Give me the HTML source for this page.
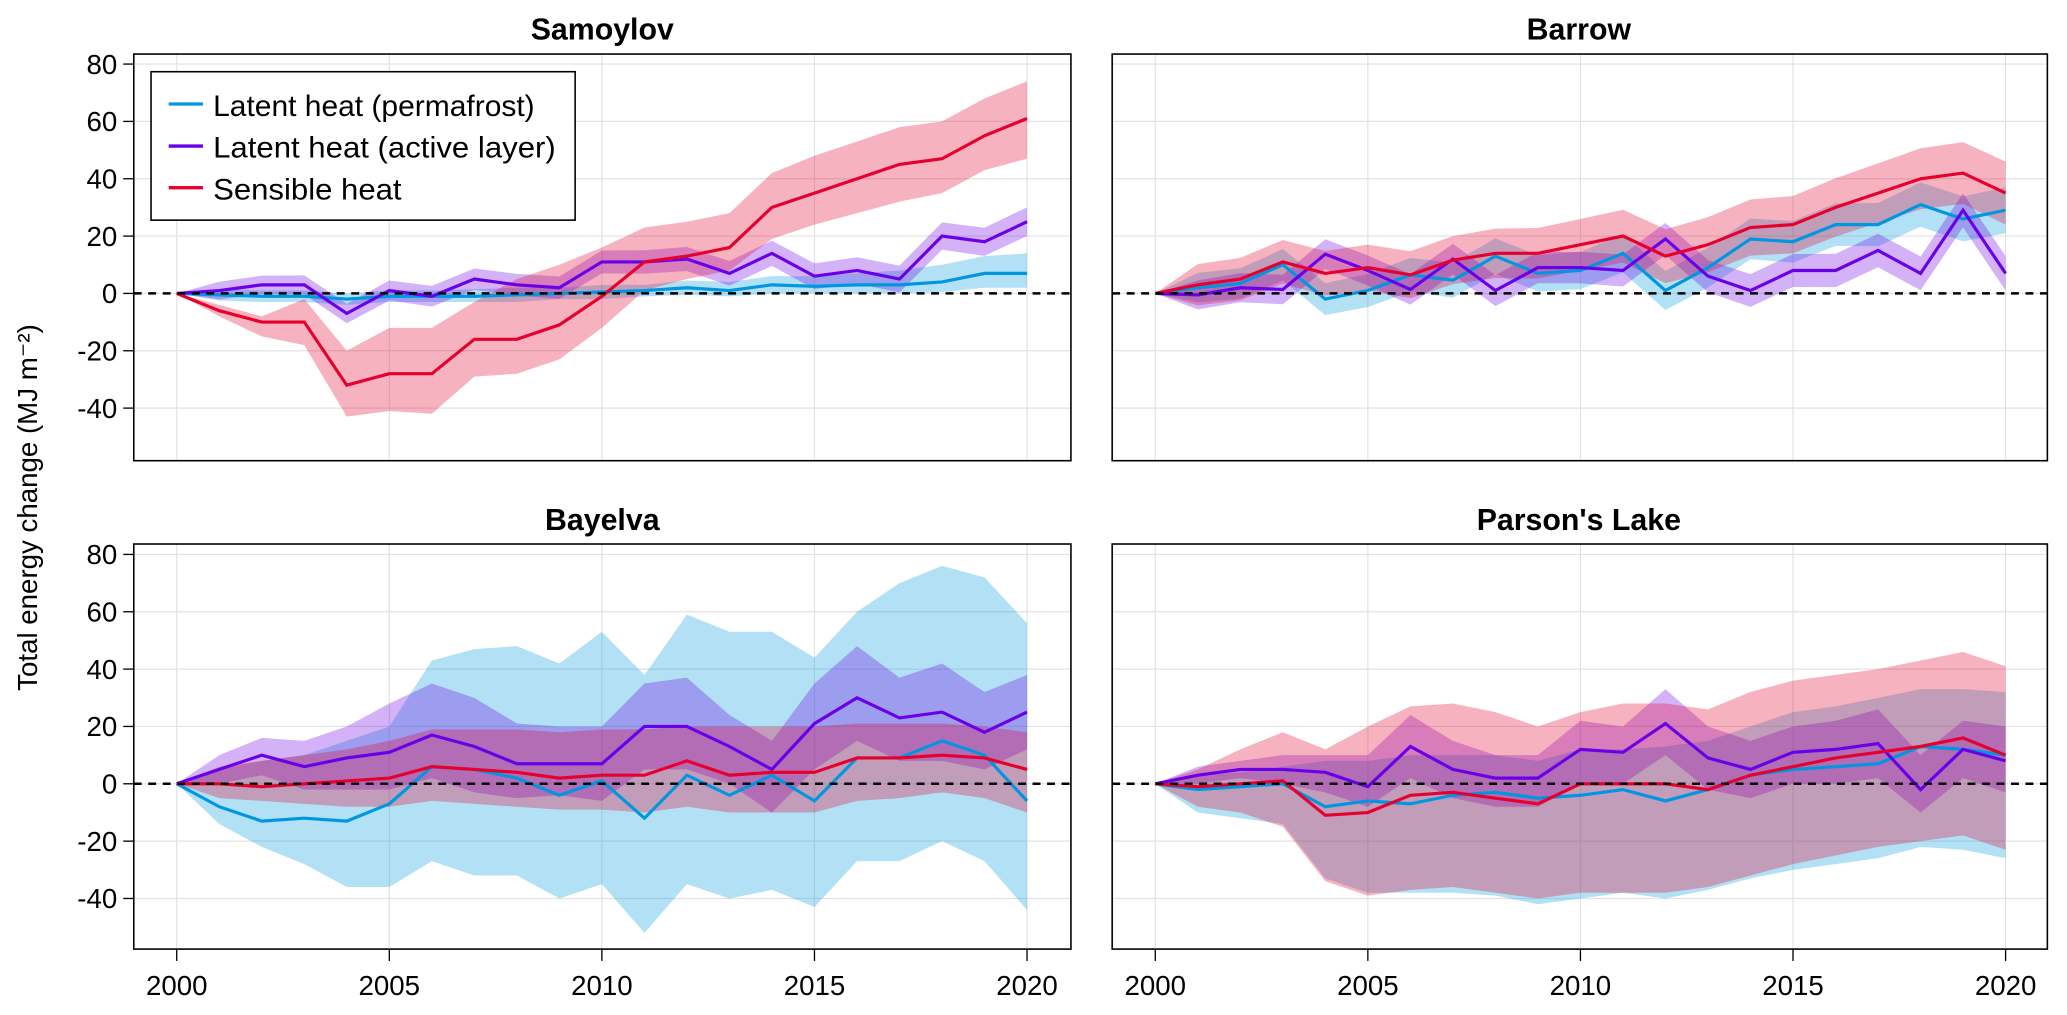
<!DOCTYPE html>
<html><head><meta charset="utf-8"><style>
html,body{margin:0;padding:0;background:#fff;}
svg{display:block;}
text{font-family:"Liberation Sans",sans-serif;}
</style></head><body>
<svg id="s" width="2067" height="1015" viewBox="0 0 1568.4 770" preserveAspectRatio="none" xmlns="http://www.w3.org/2000/svg">
<g id="grid"></g>
<g id="data"></g>
<g id="frames"></g>
<text x="457" y="30" font-size="23" font-weight="bold" text-anchor="middle">Samoylov</text>
<text x="1198" y="30" font-size="23" font-weight="bold" text-anchor="middle">Barrow</text>
<text x="457" y="402" font-size="23" font-weight="bold" text-anchor="middle">Bayelva</text>
<text x="1198" y="402" font-size="23" font-weight="bold" text-anchor="middle">Parson's Lake</text>
<text transform="translate(28,385) rotate(-90)" font-size="21" text-anchor="middle">Total energy change (MJ m⁻²)</text>
<g font-size="21" text-anchor="end">
<text x="89" y="56">80</text><text x="89" y="99.5">60</text><text x="89" y="143">40</text><text x="89" y="186.5">20</text><text x="89" y="230">0</text><text x="89" y="273.5">-20</text><text x="89" y="317">-40</text>
<text x="89" y="428">80</text><text x="89" y="471.5">60</text><text x="89" y="515">40</text><text x="89" y="558.5">20</text><text x="89" y="602">0</text><text x="89" y="645.5">-20</text><text x="89" y="689">-40</text>
</g>
<g font-size="21" text-anchor="middle">
<text x="134.1" y="755">2000</text><text x="295.4" y="755">2005</text><text x="456.7" y="755">2010</text><text x="618" y="755">2015</text><text x="779.3" y="755">2020</text>
<text x="876.6" y="755">2000</text><text x="1037.9" y="755">2005</text><text x="1199.2" y="755">2010</text><text x="1360.5" y="755">2015</text><text x="1521.8" y="755">2020</text>
</g>
<g id="legend">
<rect x="114.6" y="54.4" width="321.8" height="112.6" fill="#fff" stroke="#000" stroke-width="1.2"/>
<line x1="128" y1="78.9" x2="154" y2="78.9" stroke="#0096e0" stroke-width="2.5"/>
<line x1="128" y1="110.8" x2="154" y2="110.8" stroke="#6a00e8" stroke-width="2.5"/>
<line x1="128" y1="142.4" x2="154" y2="142.4" stroke="#e6002e" stroke-width="2.5"/>
<text x="161.7" y="88" font-size="22.5" textLength="244" lengthAdjust="spacingAndGlyphs">Latent heat (permafrost)</text>
<text x="161.7" y="119.4" font-size="22.5" textLength="260" lengthAdjust="spacingAndGlyphs">Latent heat (active layer)</text>
<text x="161.7" y="151.2" font-size="22.5" textLength="143" lengthAdjust="spacingAndGlyphs">Sensible heat</text>
</g>
</svg>
<script>
var NS="http://www.w3.org/2000/svg";
function el(p,t,a){var e=document.createElementNS(NS,t);for(var k in a)e.setAttribute(k,a[k]);p.appendChild(e);return e;}
var panels=[
 {x0:134.1,y0:222.6,L:101.5,R:812.6,T:41,B:349.5},
 {x0:876.6,y0:222.6,L:843.9,R:1553.5,T:41,B:349.5},
 {x0:134.1,y0:594.6,L:101.5,R:812.6,T:412.7,B:720},
 {x0:876.6,y0:594.6,L:843.9,R:1553.5,T:412.7,B:720}];
var dx=32.26,dy=2.175;
var C={b:"#0096e0",p:"#6a00e8",r:"#e6002e"};
var F={b:"rgba(0,154,222,0.3)",p:"rgba(110,0,230,0.3)",r:"rgba(230,0,46,0.3)"};
var D=[
 {b:[[0,-0.5,-1,-1,-2,-1,-1,-1,-0.5,0,0.5,1,2,1,3,2.5,3,3,4,7,7],[0,1.5,1,1,0,1,1,1.5,2,2,3,3,4.5,4,6,6,7,8,10,13,14],[0,-2.5,-3,-3,-4,-3,-3,-3,-3,-2,-2,-1,-0.5,-1,0,0,0,0,0.5,2,2]],
  p:[[0,1,3,3,-7,1,-1,5,3,2,11,11,12,7,14,6,8,5,20,18,25],null,null],
  r:[[0,-6,-10,-10,-32,-28,-28,-16,-16,-11,-1,11,13,16,30,35,40,45,47,55,61],[0,-4,-8,-2,-20,-12,-12,-3,5,10,16,23,25,28,42,48,53,58,60,68,74],[0,-8,-15,-18,-43,-41,-42,-29,-28,-23,-12,1,5,8,19,24,28,32,35,43,47]]},
 {b:[[0,2,3.5,10,-2,1,6.5,4.6,13,7,8,14,1,9,19,18,24,24,31,26,29],null,null],
  p:[[0,-0.5,2,1.4,13.7,8,1.4,12,1,9,9,8,19,6,1,8,8,15,7,29,7],null,null],
  r:[[0,3,5,11,7,9,6.5,11.6,14,14,17,20,13,17,23,24,30,35,40,42,35],null,null]},
 {b:[[0,-8,-13,-12,-13,-7,6,5,2,-4,1,-12,3,-4,3,-6,9,9,15,10,-6],[0,5,8,10,15,20,43,47,48,42,53,38,59,53,53,44,60,70,76,72,56],[0,-14,-22,-28,-36,-36,-27,-32,-32,-40,-35,-52,-35,-40,-37,-43,-27,-27,-20,-27,-44]],
  p:[[0,5,10,6,9,11,17,13,7,7,7,20,20,13,5,21,30,23,25,18,25],[0,10,16,15,20,28,35,30,21,20,20,35,37,24,15,35,48,37,42,32,38],[0,0,3,-2,-2,-2,2,-3,-5,-4,-6,5,5,0,-10,5,15,8,8,5,12]],
  r:[[0,0,-1,0,1,2,6,5,4,2,3,3,8,3,4,4,9,9,10,9,5],[0,6,8,10,12,15,19,19,19,18,19,19,20,20,20,20,21,21,21,20,18],[0,-5,-6,-7,-8,-8,-6,-7,-8,-9,-9,-10,-8,-10,-10,-10,-6,-5,-3,-5,-10]]},
 {b:[[0,-2,-1,0,-8,-6,-7,-4,-3,-5,-4,-2,-6,-2,3,5,6,7,13,12,10],[0,3,4,6,8,8,10,10,10,8,12,12,13,15,20,25,27,30,33,33,32],[0,-10,-12,-14,-33,-38,-38,-38,-39,-42,-40,-38,-40,-37,-33,-30,-28,-26,-22,-23,-26]],
  p:[[0,3,5,5,4,-1,13,5,2,2,12,11,21,9,5,11,12,14,-2,12,8],[0,6,8,10,10,10,24,15,10,10,22,20,33,20,15,20,22,26,10,22,20],[0,0,2,0,-3,-8,2,-5,-8,-8,0,0,10,-2,-5,0,0,2,-10,2,-3]],
  r:[[0,-1,0,1,-11,-10,-4,-3,-5,-7,0,0,0,-2,3,6,9,11,13,16,10],[0,5,12,18,12,20,27,28,25,20,25,28,28,26,32,36,38,40,43,46,41],[0,-8,-10,-15,-34,-39,-37,-36,-38,-40,-38,-38,-38,-36,-32,-28,-25,-22,-20,-18,-23]]}
];
var gg=document.getElementById("grid"),gd=document.getElementById("data"),gf=document.getElementById("frames");
panels.forEach(function(P,i){
 for(var v=-40;v<=80;v+=20){var y=P.y0-v*dy;el(gg,"line",{x1:P.L,x2:P.R,y1:y,y2:y,stroke:"#e2e2e2","stroke-width":0.9});
   if(i%2==0) el(gf,"line",{x1:P.L-8,x2:P.L,y1:y,y2:y,stroke:"#000","stroke-width":1});}
 for(var k=0;k<=20;k+=5){var x=P.x0+k*dx;el(gg,"line",{x1:x,x2:x,y1:P.T,y2:P.B,stroke:"#e2e2e2","stroke-width":0.9});
   if(i>=2) el(gf,"line",{x1:x,x2:x,y1:P.B,y2:P.B+9,stroke:"#000","stroke-width":1});}
 var d=D[i];
 ["b","p","r"].forEach(function(s){
  var m=d[s][0],u=d[s][1],l=d[s][2];
  var w={b:[3,8],p:[3,5],r:[8,12]}[s];
  if(i==1){w={b:[5,8],p:[5,6],r:[7,11]}[s];}
  if(!u){u=m.map(function(v,j){return j==0?v:v+w[0]+(w[1]-w[0])*j/20;});}
  if(!l){l=m.map(function(v,j){return j==0?v:v-w[0]-(w[1]-w[0])*j/20;});}
  var pts=[];for(var j=0;j<21;j++)pts.push((P.x0+j*dx).toFixed(1)+","+(P.y0-u[j]*dy).toFixed(1));
  for(j=20;j>=0;j--)pts.push((P.x0+j*dx).toFixed(1)+","+(P.y0-l[j]*dy).toFixed(1));
  el(gd,"polygon",{points:pts.join(" "),fill:F[s]});
 });
 ["b","p","r"].forEach(function(s){
  var m=d[s][0],pts=[];for(var j=0;j<21;j++)pts.push((P.x0+j*dx).toFixed(1)+","+(P.y0-m[j]*dy).toFixed(1));
  el(gd,"polyline",{points:pts.join(" "),fill:"none",stroke:C[s],"stroke-width":2.4,"stroke-linejoin":"miter"});
 });
 el(gd,"line",{x1:P.L,x2:P.R,y1:P.y0,y2:P.y0,stroke:"#000","stroke-width":1.9,"stroke-dasharray":"6,5"});
 el(gf,"rect",{x:P.L,y:P.T,width:P.R-P.L,height:P.B-P.T,fill:"none",stroke:"#000","stroke-width":1.2});
});
</script>
</body></html>
